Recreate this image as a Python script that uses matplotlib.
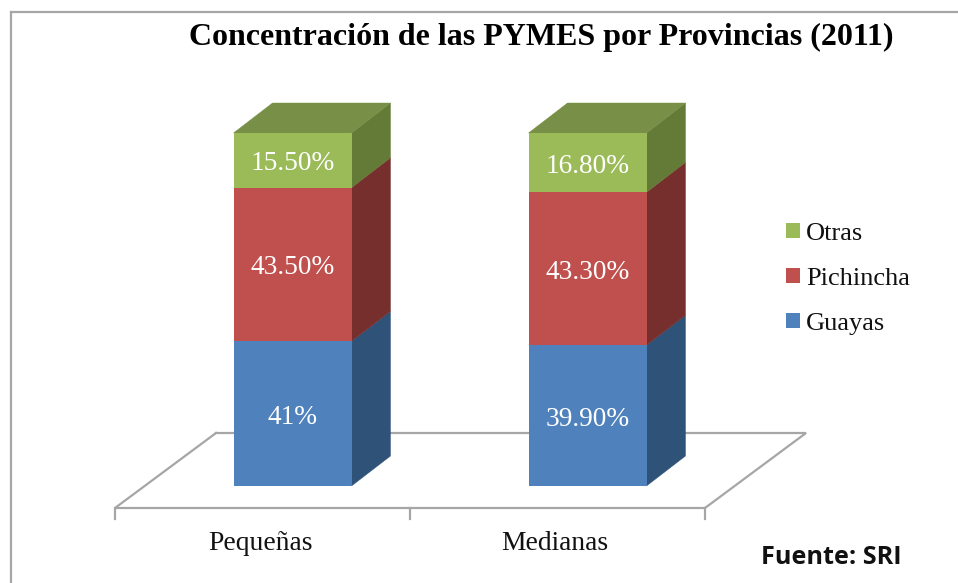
import matplotlib
matplotlib.use("Agg")
import matplotlib.pyplot as plt
from matplotlib.patches import Polygon
from matplotlib.lines import Line2D

title = "Concentración de las PYMES por Provincias (2011)"
categories = ["Pequeñas", "Medianas"]
guayas = [41.0, 39.9]
pichincha = [43.5, 43.3]
otras = [15.5, 16.8]
guayas_labels = ["41%", "39.90%"]
pichincha_labels = ["43.50%", "43.30%"]
otras_labels = ["15.50%", "16.80%"]
series_names = ["Guayas", "Pichincha", "Otras"]
source = "Fuente: SRI"

W, H = 958, 583
fig = plt.figure(figsize=(W / 100, H / 100), dpi=100, facecolor="white")
# plot area: category scale and percentage scale
L, R, B, T = 145, 735, 486, 133
ax = fig.add_axes([L / W, 1 - B / H, (R - L) / W, (B - T) / H])
ax.set_xlim(-0.5, 1.5)
ax.set_ylim(0, 100)
ax.axis("off")

px = 2.0 / (R - L)      # data x per pixel
py = 100.0 / (B - T)    # data y per pixel
dx, dy = 39 * px, 30 * py
bar_w = 118 * px

serif = "Liberation Serif"
GRAY = "#a6a6a6"

# frame
fig.add_artist(Line2D([11 / W, 1], [1 - 12 / H] * 2, color=GRAY, lw=1.6))
fig.add_artist(Line2D([11 / W, 11 / W], [0, 1 - 12 / H], color=GRAY, lw=1.6))

# floor
fx0, fx1 = -0.5 - 30 * px, 1.5 - 30 * px
fy = -22 * py
fdx, fdy = 101 * px, 75 * py
ax.plot([fx0 + fdx, fx0, fx1, fx1 + fdx, fx0 + fdx],
        [fy + fdy, fy, fy, fy + fdy, fy + fdy],
        color=GRAY, lw=1.6, clip_on=False, zorder=1, solid_joinstyle="miter")
for xt in [fx0, (fx0 + fx1) / 2, fx1]:
    ax.plot([xt, xt], [fy, fy - 11 * py], color=GRAY, lw=1.6, clip_on=False, zorder=1)

series = [guayas, pichincha, otras]
labels = [guayas_labels, pichincha_labels, otras_labels]
front = ["#4F81BD", "#C0504D", "#9BBB59"]
side = ["#2F5279", "#772F2D", "#647A37"]
top_col = "#778F46"
xpos = list(range(len(categories)))

handles = []
for i, x in enumerate(xpos):
    base = 0.0
    for s, vals in enumerate(series):
        v = vals[i]
        xr = x + bar_w / 2
        ax.add_patch(Polygon([(xr, base), (xr + dx, base + dy), (xr + dx, base + v + dy), (xr, base + v)],
                             closed=True, fc=side[s], ec=side[s], lw=0.3, zorder=2, clip_on=False))
        base += v
    xl = x - bar_w / 2
    xr = x + bar_w / 2
    ax.add_patch(Polygon([(xl, base), (xr, base), (xr + dx, base + dy), (xl + dx, base + dy)],
                         closed=True, fc=top_col, ec=top_col, lw=0.3, zorder=2, clip_on=False))

bottom = [0.0, 0.0]
for s, vals in enumerate(series):
    b = ax.bar(xpos, vals, width=bar_w, bottom=bottom, color=front[s], zorder=3, label=series_names[s])
    handles.append(b)
    for i, x in enumerate(xpos):
        ax.text(x + 0.5 * px, bottom[i] + vals[i] / 2 - 3.5 * py, labels[s][i], color="white",
                family=serif, fontsize=19.7, ha="center", va="center", zorder=4)
    bottom = [bottom[i] + vals[i] for i in range(2)]

# category labels
for x, c in zip(xpos, categories):
    ax.text(x - 32.5 * px, fy - 36 * py, c, family=serif, fontsize=19.8,
            ha="center", va="center", color="#111111")

fig.text(541 / W, 1 - 37 / H, title, family=serif, weight="bold", fontsize=23,
         ha="center", va="center", color="black")
fig.text(761 / W, 1 - 557 / H, source, family="Open Sans", weight="bold", fontsize=18.2,
         ha="left", va="center", color="#111111")

leg = fig.legend(handles[::-1], series_names[::-1], loc="center left",
                 bbox_to_anchor=(786 / W, 1 - 279 / H), frameon=False,
                 prop={"family": serif, "size": 19}, handlelength=0.52, handleheight=0.52,
                 handletextpad=0.25, labelspacing=0.87, borderpad=0, borderaxespad=0)
for t in leg.get_texts():
    t.set_color("#111111")

fig.savefig("out.png", dpi=100, facecolor="white")
